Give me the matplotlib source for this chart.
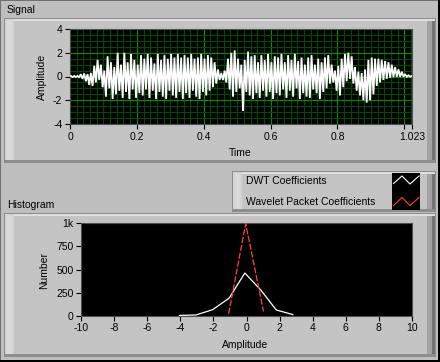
import numpy as np
import matplotlib
matplotlib.use("Agg")
import matplotlib.pyplot as plt
from matplotlib.patches import Rectangle
from matplotlib.ticker import MultipleLocator

plt.rcParams['font.family'] = ['Liberation Sans', 'DejaVu Sans']
plt.rcParams['font.size'] = 7.5

# ---------------- data ----------------
# Signal: per 0.01 s bin, the positive peak and negative trough
signal_bin_width = 0.01
signal_peaks = [
    0.05, 0.05, 0.05, 0.2, 0.25, 0.2, 0.3, 0.9, 1.4, 1.0,
    0.5, 1.7, 1.2, 0.8, 2.0, 1.0, 2.0, 1.2, 1.9, 1.4,
    1.0, 1.8, 1.5, 1.9, 1.6, 1.1, 1.9, 1.4, 1.8, 1.5,
    1.9, 1.6, 1.9, 1.6, 1.8, 1.6, 1.9, 1.5, 1.6, 1.9,
    1.5, 1.8, 1.6, 1.2, 0.6, 0.3, 0.5, 1.5, 2.0, 2.2,
    1.5, 1.0, 1.4, 2.1, 1.7, 1.8, 1.2, 1.8, 1.4, 1.9,
    1.2, 1.7, 1.6, 1.9, 1.2, 1.8, 1.4, 1.9, 1.3, 1.6,
    1.0, 1.6, 1.8, 1.0, 1.5, 1.2, 1.6, 1.8, 1.0, 0.5,
    0.9, 1.5, 1.9, 2.0, 1.7, 0.8, 0.4, 0.3, 0.6, 1.4,
    1.6, 1.5, 1.5, 1.4, 1.3, 1.2, 1.0, 0.8, 0.6, 0.4,
    0.2, 0.1, 0.05,
]
signal_troughs = [
    -0.05, -0.05, -0.05, -0.2, -0.4, -0.7, -0.8, -0.5, -0.3, -0.9,
    -1.7, -1.0, -1.9, -1.5, -1.2, -1.8, -1.3, -1.9, -1.1, -1.8,
    -1.4, -1.6, -1.1, -1.8, -1.2, -1.9, -1.3, -1.7, -1.9, -1.2,
    -1.6, -1.8, -1.3, -1.9, -1.4, -1.8, -1.2, -1.7, -1.9, -1.3,
    -1.6, -1.2, -0.9, -0.6, -0.3, -0.3, -0.5, -1.1, -1.7, -1.3,
    -1.0, -2.9, -1.3, -1.6, -1.9, -1.4, -1.8, -1.2, -1.7, -1.3,
    -1.9, -1.4, -1.6, -1.1, -1.8, -1.2, -1.7, -1.0, -1.9, -1.4,
    -1.7, -1.8, -1.1, -1.4, -1.9, -1.3, -1.0, -0.6, -0.5, -1.2,
    -1.6, -0.9, -0.4, -0.2, -0.6, -1.2, -1.6, -2.0, -2.2, -2.0,
    -1.5, -0.8, -0.5, -0.3, -0.2, -0.1, -0.05, -0.02, -0.02, -0.02,
    -0.02, -0.02, -0.02,
]
time_ticks = [0, 0.2, 0.4, 0.6, 0.8, 1.0, 1.023]
time_tick_labels = ['0', '0.2', '0.4', '0.6', '0.8', '', '1.023']
amp_ticks = [-4, -2, 0, 2, 4]
amp_tick_labels = ['-4', '-2', '0', '2', '4']

# Histogram
dwt_amplitude = [-4.05, -3.05, -2.05, -1.05, -0.1, 0.85, 1.8, 2.8]
dwt_number = [3, 8, 65, 190, 462, 280, 62, 12]
wp_amplitude = [-1.08, -0.05, 1.03]
wp_number = [20, 995, 45]
hist_x_ticks = [-10, -8, -6, -4, -2, 0, 2, 4, 6, 8, 10]
hist_x_labels = ['-10', '-8', '-6', '-4', '-2', '0', '2', '4', '6', '8', '10']
hist_y_ticks = [0, 250, 500, 750, 1000]
hist_y_labels = ['0', '250', '500', '750', '1k']
legend_labels = ['DWT Coefficients', 'Wavelet Packet Coefficients']

# ---------------- figure ----------------
W, H = 440, 362
BG = '#bebebe'
fig = plt.figure(figsize=(W / 100, H / 100), dpi=100, facecolor=BG)

deco = fig.add_axes([0, 0, 1, 1], zorder=-5)
deco.set_xlim(0, W)
deco.set_ylim(H, 0)
deco.axis('off')


def rect(x0, y0, x1, y1, color, z=0):
    deco.add_patch(Rectangle((x0, y0), x1 - x0, y1 - y0, facecolor=color,
                             edgecolor='none', zorder=z, antialiased=False))


def panel(x0, y0, x1, y1):
    rect(x0, y0, x1, y1, '#8c8c8c')
    rect(x0 + 1, y0 + 1, x1 - 1, y1 - 1, '#c4c4c4')
    rect(x0 + 1, y0 + 1, x1 - 1, y0 + 3, '#dedede')
    rect(x0 + 1, y0 + 1, x0 + 10, y1 - 1, '#d3d3d3')
    rect(x0 + 3, y0 + 3, x0 + 8, y1 - 3, '#dadada')
    rect(x1 - 9, y0 + 3, x1 - 1, y1 - 1, '#a2a2a2')
    rect(x1 - 4, y0 + 3, x1 - 1, y1 - 1, '#747474')
    rect(x0 + 1, y1 - 3, x1 - 1, y1 - 1, '#8e8e8e')


# outer border
rect(0, 0, W, 1, '#707070')
rect(0, 0, 1, H, '#707070')
rect(W - 2, 0, W, H, '#000000')
rect(0, H - 2, W, H, '#000000')

panel(4, 18, 436, 163)
panel(4, 213, 436, 357)
panel(232, 171, 436, 212)

fig.text(7 / W, 1 - 10 / H, 'Signal', ha='left', va='center')
fig.text(7 / W, 1 - 204.5 / H, 'Histogram', ha='left', va='center')

# ---- Signal graph ----
ax1 = fig.add_axes([70 / W, 1 - 124 / H, 342 / W, 95 / H], facecolor='black')
sig_t, sig_v = [], []
for i, (p, q) in enumerate(zip(signal_peaks, signal_troughs)):
    sig_t += [i * signal_bin_width + 0.0025, i * signal_bin_width + 0.0075]
    sig_v += [p, q]
ax1.plot(sig_t, sig_v, color='white', lw=1.3, zorder=3, solid_joinstyle='miter')
ax1.set_xlim(0, 1.023)
ax1.set_ylim(-4, 4)
ax1.set_xticks(time_ticks)
ax1.set_xticklabels(time_tick_labels)
ax1.set_yticks(amp_ticks)
ax1.set_yticklabels(amp_tick_labels)
ax1.xaxis.set_minor_locator(MultipleLocator(0.02))
ax1.yaxis.set_minor_locator(MultipleLocator(0.5))
ax1.grid(which='minor', color='#004a00', lw=0.8)
ax1.grid(which='major', color='#009000', lw=0.8)
ax1.set_axisbelow(True)
ax1.tick_params(which='minor', length=0)
ax1.tick_params(which='major', length=3.5, width=0.8, color='black', pad=2)
for s in ax1.spines.values():
    s.set_color('#505050')
    s.set_linewidth(0.8)
fig.text(41.7 / W, 1 - 76.5 / H, 'Amplitude', rotation=90, ha='center', va='center')
fig.text(240 / W, 1 - 153.3 / H, 'Time', ha='center', va='center')

# ---- Histogram graph ----
ax2 = fig.add_axes([81 / W, 1 - 315.7 / H, 331 / W, 92.4 / H], facecolor='black')
ax2.plot(dwt_amplitude, dwt_number, color='white', lw=0.9, clip_on=False, zorder=3)
ax2.plot(wp_amplitude, wp_number, color='#ff4040', lw=0.9, dashes=(5, 1.4), zorder=4)
ax2.set_xlim(-10, 10)
ax2.set_ylim(0, 1000)
ax2.set_xticks(hist_x_ticks)
ax2.set_xticklabels(hist_x_labels)
ax2.set_yticks(hist_y_ticks)
ax2.set_yticklabels(hist_y_labels)
ax2.tick_params(which='major', length=3.5, width=0.8, color='black', pad=2)
for s in ax2.spines.values():
    s.set_color('#505050')
    s.set_linewidth(0.8)
fig.text(44 / W, 1 - 270.3 / H, 'Number', rotation=90, ha='center', va='center')
fig.text(245 / W, 1 - 345 / H, 'Amplitude', ha='center', va='center')

# ---- Legend ----
fig.text(245.5 / W, 1 - 181 / H, legend_labels[0], ha='left', va='center')
fig.text(245.5 / W, 1 - 201.5 / H, legend_labels[1], ha='left', va='center')
rect(392, 173, 420, 210, '#000000', z=2)
deco.plot([393.5, 402, 410, 419], [183.5, 176, 184, 176], color='white', lw=0.8, zorder=3)
deco.plot([393.5, 402, 410, 419], [205.5, 197.5, 205.5, 197.5], color='#ff4040', lw=0.8, zorder=3)

fig.savefig('out.png', dpi=100, facecolor=BG)
